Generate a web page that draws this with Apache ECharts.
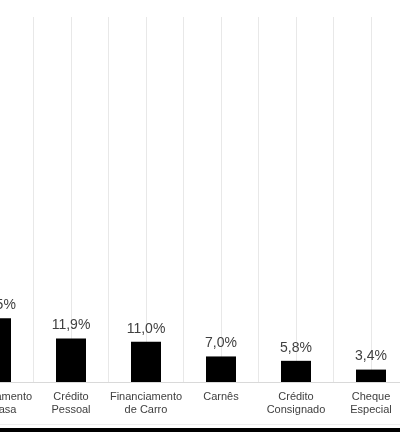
<!DOCTYPE html>
<html>
<head>
<meta charset="utf-8">
<script src="https://cdn.jsdelivr.net/npm/echarts@6/dist/echarts.min.js"></script>
<style>
  html, body { margin: 0; padding: 0; background: #fff; }
  #main { width: 400px; height: 432px; }
</style>
</head>
<body>
<div id="main"></div>
<script>
// categorias (a primeira fica cortada na borda esquerda)
const categorias = ['Financiamento\nde Casa', 'Crédito\nPessoal', 'Financiamento\nde Carro', 'Carnês', 'Crédito\nConsignado', 'Cheque\nEspecial'];
const valores = [17.5, 11.9, 11.0, 7.0, 5.8, 3.4];

let chart = echarts.init(document.getElementById('main'));

let option = {
    animation: false,
    textStyle: { fontFamily: 'Liberation Sans' },
    grid: { left: -41.5, right: -8.5, top: 17, bottom: 50, outerBoundsMode: 'none', containLabel: false },
    xAxis: [
        {
            type: 'category',
            data: categorias,
            axisTick: { show: false },
            axisLine: { lineStyle: { color: '#d9d9d9' } },
            axisLabel: { color: '#404040', fontSize: 11, lineHeight: 13, margin: 8, interval: 0 },
            splitLine: { show: false }
        },
        {
            // só para as linhas verticais de grade
            type: 'value',
            position: 'bottom',
            min: 0,
            max: categorias.length,
            interval: 0.5,
            axisLabel: { show: false },
            axisTick: { show: false },
            axisLine: { show: false },
            splitLine: { show: true, lineStyle: { color: '#e8e8e8', width: 1 } }
        }
    ],
    yAxis: {
        type: 'value',
        min: 0,
        max: 100,
        show: false,
        splitLine: { show: false }
    },
    series: [
        {
            type: 'bar',
            xAxisIndex: 0,
            data: valores,
            barWidth: 30,
            itemStyle: { color: '#000' },
            label: {
                show: true,
                position: 'top',
                distance: 6,
                color: '#404040',
                fontSize: 14,
                formatter: p => p.value.toFixed(1).replace('.', ',') + '%'
            }
        }
    ],
    graphic: [
        { type: 'line', shape: { x1: 0, y1: 424.5, x2: 400, y2: 424.5 }, style: { stroke: '#eeeeee', lineWidth: 1 } },
        { type: 'rect', shape: { x: 0, y: 428, width: 400, height: 4 }, style: { fill: '#000' } }
    ]
};

option && chart.setOption(option);
</script>
</body>
</html>
